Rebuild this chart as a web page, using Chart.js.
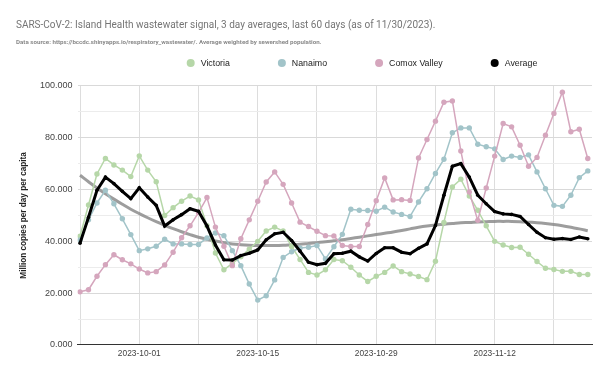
<!DOCTYPE html>
<html>
<head>
<meta charset="utf-8">
<script src="https://cdn.jsdelivr.net/npm/chart.js@4.4.0/dist/chart.umd.min.js"></script>
<style>
  body { margin: 0; background: #fff; }
  #wrap { width: 611px; height: 377px; position: relative; }
</style>
</head>
<body>
<div id="wrap"><canvas id="chart"></canvas></div>
<script>
// dates, one per point (3 day averages)
const days = [
  '2023-09-24', '2023-09-25', '2023-09-26', '2023-09-27', '2023-09-28', '2023-09-29', '2023-09-30',
  '2023-10-01', '2023-10-02', '2023-10-03', '2023-10-04', '2023-10-05', '2023-10-06', '2023-10-07',
  '2023-10-08', '2023-10-09', '2023-10-10', '2023-10-11', '2023-10-12', '2023-10-13', '2023-10-14',
  '2023-10-15', '2023-10-16', '2023-10-17', '2023-10-18', '2023-10-19', '2023-10-20', '2023-10-21',
  '2023-10-22', '2023-10-23', '2023-10-24', '2023-10-25', '2023-10-26', '2023-10-27', '2023-10-28',
  '2023-10-29', '2023-10-30', '2023-10-31', '2023-11-01', '2023-11-02', '2023-11-03', '2023-11-04',
  '2023-11-05', '2023-11-06', '2023-11-07', '2023-11-08', '2023-11-09', '2023-11-10', '2023-11-11',
  '2023-11-12', '2023-11-13', '2023-11-14', '2023-11-15', '2023-11-16', '2023-11-17', '2023-11-18',
  '2023-11-19', '2023-11-20', '2023-11-21', '2023-11-22', '2023-11-23'
];

const victoria = [
  42, 54, 66, 72, 69.5, 67.5, 65, 73, 67.5, 63,
  50, 53, 55.5, 57.5, 56, 46, 35.5, 29, 31.5, 34,
  37, 40, 44, 45.5, 44, 38, 33, 28, 27, 29,
  33, 32.5, 30, 27, 24.5, 26.5, 28, 30.5, 28.3, 27.4,
  26.4, 25.2, 32.3, 47.3, 61, 64, 57.5, 52, 46, 40,
  38.6, 37.6, 37.7, 35, 32.2, 29.6, 29.1, 28.4, 28.4, 27.2,
  27.2
];
const nanaimo = [
  40.5, 48.3, 54.8, 59.7, 54.5, 48.7, 42.6, 36.4, 37.1, 38.1,
  40.8, 39.0, 39.0, 38.8, 38.8, 41.3, 43.2, 42.2, 36.4, 30.6,
  23.5, 17.3, 19.0, 25.1, 33.8, 36.0, 37.4, 37.7, 38.4, 33.2,
  37.9, 42.7, 52.4, 52.0, 51.9, 51.6, 53.2, 51.3, 50.4, 49.6,
  55.2, 60.3, 66.2, 71.7, 81.9, 83.8, 83.8, 77.5, 76.5, 75.7,
  71.6, 72.9, 72.4, 73.4, 66.8, 60.3, 53.9, 53.5, 57.8, 64.6,
  67.2
];
const comox = [
  20.5, 21.3, 26.5, 31.0, 34.8, 32.9, 31.3, 29.3, 27.8, 28.3,
  30.9, 35.8, 41.4, 46.0, 51.1, 56.9, 45.5, 38.1, 30.6, 41.0,
  48.3, 55.5, 62.9, 66.8, 62.0, 54.8, 47.4, 45.7, 43.9, 42.2,
  42.1, 38.4, 38.0, 38.0, 46.5, 55.7, 64.5, 56.0, 56.1, 55.8,
  72.2, 79.3, 86.4, 93.7, 94.2, 74.9, 59.0, 48.1, 60.6, 72.9,
  85.5, 84.2, 77.1, 69.0, 72.4, 81.0, 89.4, 97.6, 82.3, 83.3,
  72.0
];
const average = [
  39.3, 49.3, 59.7, 64.8, 62.3, 59.3, 56.5, 60.7, 57.1, 53.9,
  45.9, 48.3, 50.3, 52.6, 51.6, 45.9, 38.6, 32.9, 32.8, 34.5,
  35.4, 36.7, 40.6, 42.9, 43.5, 40.3, 36.2, 31.9, 31.0, 31.5,
  35.2, 35.4, 36.2, 34.0, 32.4, 35.3, 37.5, 37.5, 35.8, 35.2,
  37.3, 39.0, 46.1, 57.8, 69.0, 70.0, 64.8, 57.8, 54.5, 51.5,
  50.6, 50.4, 49.6, 46.5, 43.5, 41.4, 40.8, 41.1, 40.7, 41.7,
  41.0
];
// trendline of the average
const trend = [
  65.5, 63.0, 60.6, 58.4, 56.3, 54.3, 52.4, 50.7, 49.1, 47.6,
  46.2, 44.9, 43.7, 42.6, 41.6, 40.8, 40.1, 39.5, 39.0, 38.7,
  38.5, 38.4, 38.4, 38.4, 38.5, 38.7, 38.9, 39.2, 39.5, 39.8,
  40.2, 40.6, 41.1, 41.6, 42.1, 42.6, 43.1, 43.6, 44.2, 44.8,
  45.4, 45.9, 46.3, 46.6, 46.9, 47.2, 47.3, 47.5, 47.6, 47.7,
  47.7, 47.7, 47.6, 47.4, 47.2, 46.9, 46.5, 46.0, 45.4, 44.8,
  44.1
];

// a gridline every week, a label every two weeks
const gridDays = ['2023-09-24', '2023-10-01', '2023-10-08', '2023-10-15', '2023-10-22',
                  '2023-10-29', '2023-11-05', '2023-11-12', '2023-11-19'];
const labelDays = ['2023-10-01', '2023-10-15', '2023-10-29', '2023-11-12'];

const FONT = 'Arial, "Liberation Sans", sans-serif';
const TITLE_FONT = 'Roboto, Arial, sans-serif';

function pts(arr) {
  return arr.map((v, i) => ({ x: i, y: v }));
}

function series(label, values, color, order) {
  return {
    label: label,
    data: pts(values),
    borderColor: color,
    backgroundColor: color,
    borderWidth: 1.5,
    pointRadius: 2.7,
    pointBorderWidth: 0,
    pointHoverRadius: 3,
    tension: 0,
    order: order
  };
}

const datasets = [
  series('Victoria', victoria, '#b6d7a8', 4),
  series('Nanaimo', nanaimo, '#a2c4c9', 3),
  series('Comox Valley', comox, '#d5a6bd', 2),
  {
    label: 'Average',
    data: pts(average),
    borderColor: '#000000',
    backgroundColor: '#000000',
    borderWidth: 3,
    pointRadius: 1.8,
    pointBorderWidth: 0,
    tension: 0,
    order: 1
  },
  {
    label: 'trend',
    data: pts(trend),
    borderColor: 'rgba(140,140,140,0.85)',
    backgroundColor: 'rgba(140,140,140,0.85)',
    borderWidth: 3,
    pointRadius: 0,
    tension: 0.4,
    order: 5,
    noLegend: true
  }
];

// legend drawn by hand, in the gap between subtitle and plot
const seriesLegend = {
  id: 'seriesLegend',
  afterDraw(chart, args, opts) {
    const ctx = chart.ctx;
    const items = chart.data.datasets.filter(d => !d.noLegend);
    ctx.save();
    ctx.font = opts.fontSize + 'px ' + FONT;
    const widths = items.map(d => ctx.measureText(d.label).width);
    let total = 0;
    widths.forEach(w => { total += opts.radius * 2 + opts.textGap + w; });
    total += opts.itemGap * (items.length - 1);
    let x = opts.centerX - total / 2;
    ctx.textBaseline = 'middle';
    ctx.textAlign = 'left';
    items.forEach((d, i) => {
      ctx.fillStyle = d.backgroundColor;
      ctx.beginPath();
      ctx.arc(x + opts.radius, opts.y, opts.radius, 0, Math.PI * 2);
      ctx.fill();
      ctx.fillStyle = opts.color;
      ctx.fillText(d.label, x + opts.radius * 2 + opts.textGap, opts.y + 0.5);
      x += opts.radius * 2 + opts.textGap + widths[i] + opts.itemGap;
    });
    ctx.restore();
  }
};

new Chart(document.getElementById('chart'), {
  type: 'line',
  data: { datasets: datasets },
  plugins: [seriesLegend],
  options: {
    responsive: true,
    maintainAspectRatio: false,
    animation: false,
    layout: { padding: { left: 16, right: 19, top: 10, bottom: 14 } },
    plugins: {
      tooltip: { enabled: false },
      legend: { display: false },
      seriesLegend: {
        centerX: 362, y: 63, radius: 4, textGap: 6, itemGap: 48,
        fontSize: 8.8, color: '#222222'
      },
      title: {
        display: true,
        text: 'SARS-CoV-2: Island Health wastewater signal, 3 day averages, last 60 days (as of 11/30/2023).',
        align: 'start',
        color: '#757575',
        font: { family: TITLE_FONT, size: 10, weight: 'normal' },
        padding: { top: 9, bottom: 3 }
      },
      subtitle: {
        display: true,
        text: 'Data source: https://bccdc.shinyapps.io/respiratory_wastewater/. Average weighted by sewershed population.',
        align: 'start',
        color: '#8a8a8a',
        font: { family: TITLE_FONT, size: 6.2, weight: 'bold' },
        padding: { top: 4.3, bottom: 40.2 }
      }
    },
    scales: {
      x: {
        type: 'linear',
        min: -0.3,
        max: 60.5,
        afterBuildTicks: scale => {
          scale.ticks = gridDays.map(d => ({ value: days.indexOf(d) }));
        },
        ticks: {
          autoSkip: false,
          maxRotation: 0,
          padding: 4,
          color: '#444444',
          font: { family: FONT, size: 8.4 },
          callback: v => labelDays.includes(days[v]) ? days[v] : ''
        },
        grid: { color: '#dddddd', drawTicks: false },
        border: { color: '#333333', width: 1 }
      },
      y: {
        min: 0,
        max: 100,
        afterFit: scale => { scale.width = 61.5; },
        ticks: {
          stepSize: 10,
          padding: 5,
          color: '#444444',
          font: { family: FONT, size: 9 },
          callback: v => v % 20 === 0 ? v.toFixed(3) : ''
        },
        grid: {
          drawTicks: false,
          color: ctx => ctx.tick.value === 0 ? 'rgba(0,0,0,0)' : (ctx.tick.value % 20 === 0 ? '#d9d9d9' : '#ececec')
        },
        border: { display: false },
        title: {
          display: true,
          text: 'Million copies per day per capita',
          color: '#222222',
          font: { family: FONT, size: 8.2, weight: 'bold' },
          padding: { top: 3, bottom: 0 }
        }
      }
    }
  }
});
</script>
</body>
</html>
